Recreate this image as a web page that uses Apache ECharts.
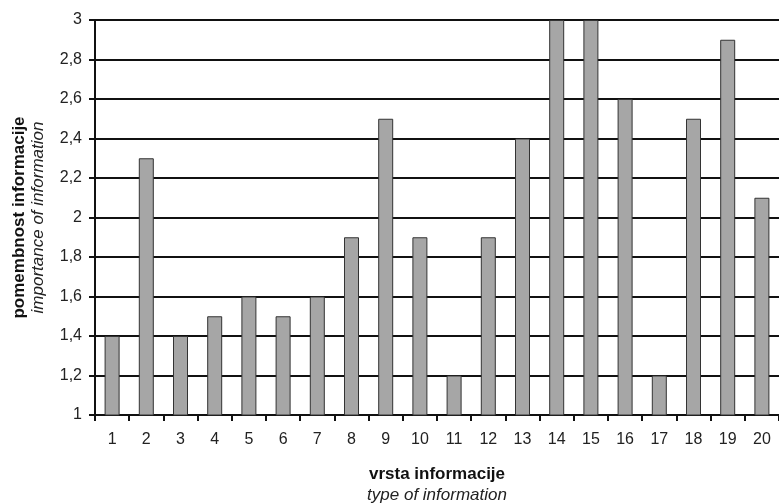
<!DOCTYPE html>
<html><head><meta charset="utf-8">
<script src="https://cdn.jsdelivr.net/npm/echarts@6/dist/echarts.min.js"></script>
<style>html,body{margin:0;padding:0;background:#fff}#c{width:779px;height:504px}</style>
</head><body><div id="c"></div>
<script>
const categories = ['1','2','3','4','5','6','7','8','9','10','11','12','13','14','15','16','17','18','19','20'];
const values = [1.4,2.3,1.4,1.5,1.6,1.5,1.6,1.9,2.5,1.9,1.2,1.9,2.4,3.0,3.0,2.6,1.2,2.5,2.9,2.1];
const yTitle = ['pomembnost informacije','importance of information'];
const xTitle = ['vrsta informacije','type of information'];
const F = 'Liberation Sans, Arial, sans-serif';
const chart = echarts.init(document.getElementById('c'));
chart.setOption({
  animation:false,
  backgroundColor:'#fff',
  grid:{left:95,right:0,top:20,bottom:89,containLabel:false,outerBoundsMode:'none'},
  xAxis:{
    type:'category', data:categories,
    axisLine:{lineStyle:{color:'#111',width:2}},
    axisTick:{show:true,length:6,lineStyle:{color:'#111',width:2}},
    axisLabel:{color:'#222',fontFamily:F,fontSize:16,margin:17,hideOverlap:false,interval:0},
    name:'{b|'+xTitle[0]+'}\n{i|'+xTitle[1]+'}',
    nameLocation:'middle', nameGap:49,
    nameTextStyle:{rich:{
      b:{fontFamily:F,fontWeight:'bold',fontSize:17,color:'#111',lineHeight:21},
      i:{fontFamily:F,fontStyle:'italic',fontSize:17,color:'#222',lineHeight:21}
    }}
  },
  yAxis:{
    type:'value', min:1, max:3, interval:0.2,
    axisLine:{show:true,lineStyle:{color:'#111',width:2}},
    axisTick:{show:true,length:6,lineStyle:{color:'#111',width:2}},
    splitLine:{show:true,lineStyle:{color:'#111',width:2}},
    axisLabel:{color:'#222',fontFamily:F,fontSize:16,margin:13,
      formatter:v=>(Math.round(v*10)/10).toString().replace('.',',')},
    name:'{b|'+yTitle[0]+'}\n{i|'+yTitle[1]+'}',
    nameLocation:'middle', nameRotate:90, nameGap:47,
    nameTextStyle:{rich:{
      b:{fontFamily:F,fontWeight:'bold',fontSize:17,color:'#111',lineHeight:19},
      i:{fontFamily:F,fontStyle:'italic',fontSize:17,color:'#222',lineHeight:19}
    }}
  },
  series:[{
    type:'bar', data:values, barWidth:15,
    itemStyle:{color:'#a6a6a6',borderColor:'#333',borderWidth:1}
  }]
});
</script></body></html>
